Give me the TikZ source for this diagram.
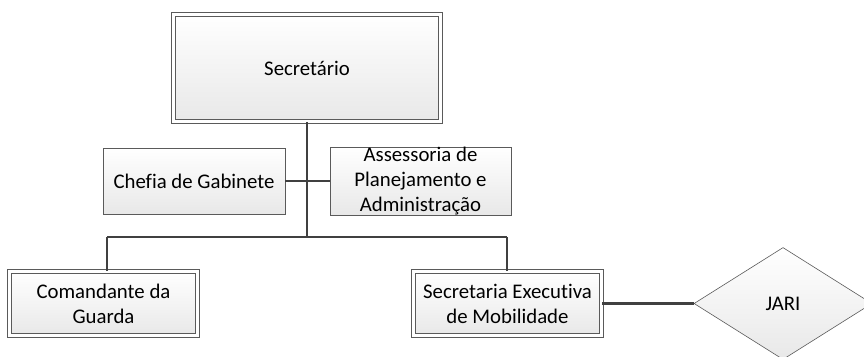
\documentclass[tikz,border=0pt]{standalone}
\usepackage{fontspec}
\setmainfont{Carlito}[Ligatures=NoCommon]
\usetikzlibrary{shapes.geometric}
\definecolor{bordergray}{HTML}{5A5A5A}
\definecolor{linegray}{HTML}{404040}
\tikzset{
  x=1pt, y=-1pt,
  basebox/.style={rectangle, draw=bordergray, line width=0.8pt, top color=white, bottom color=black!9,
    align=center, inner sep=0pt, font=\fontsize{20.8}{25}\selectfont},
  dblbox/.style={basebox, double=white, double distance=3.2pt},
  sglbox/.style={basebox},
  link/.style={draw=linegray, line width=2.8pt},
  jari/.style={diamond, draw=bordergray, line width=0.6pt, top color=white, bottom color=black!9,
    inner sep=0pt, minimum width=178pt, minimum height=112pt, aspect=1.59,
    font=\fontsize{20.8}{25}\selectfont}
}
\begin{document}
\begin{tikzpicture}
\useasboundingbox (0,0) rectangle (864,356);
\node[dblbox, minimum width=267.5pt, minimum height=107pt] (sec) at (307,68) {Secretário};
\node[sglbox, minimum width=182pt, minimum height=66pt] (chefia) at (194,181) {Chefia de Gabinete};
\node[sglbox, minimum width=181pt, minimum height=68pt] (assess) at (420.5,181) {Assessoria de\\Planejamento e\\Administração};
\node[dblbox, minimum width=188.5pt, minimum height=64.5pt] (cmd) at (103.5,303.5) {Comandante da\\Guarda};
\node[dblbox, minimum width=188.5pt, minimum height=64.5pt] (sem) at (507.5,303.5) {Secretaria Executiva\\de Mobilidade};
\node[jari] (jari) at (783,303.5) {JARI};
\coordinate (hub) at (307,181);
\coordinate (bus) at (307,237);
\coordinate (busL) at (107,237);
\coordinate (busR) at (507,237);
\draw[link] (sec.south) -- (bus);
\draw[link] (chefia.east) -- (hub) -- (assess.west);
\draw[link] (busL) -- (busR);
\draw[link] (busL) -- (cmd.north -| busL);
\draw[link] (busR) -- (sem.north -| busR);
\draw[link] (sem.east) -- (jari.west);
\end{tikzpicture}
\end{document}
